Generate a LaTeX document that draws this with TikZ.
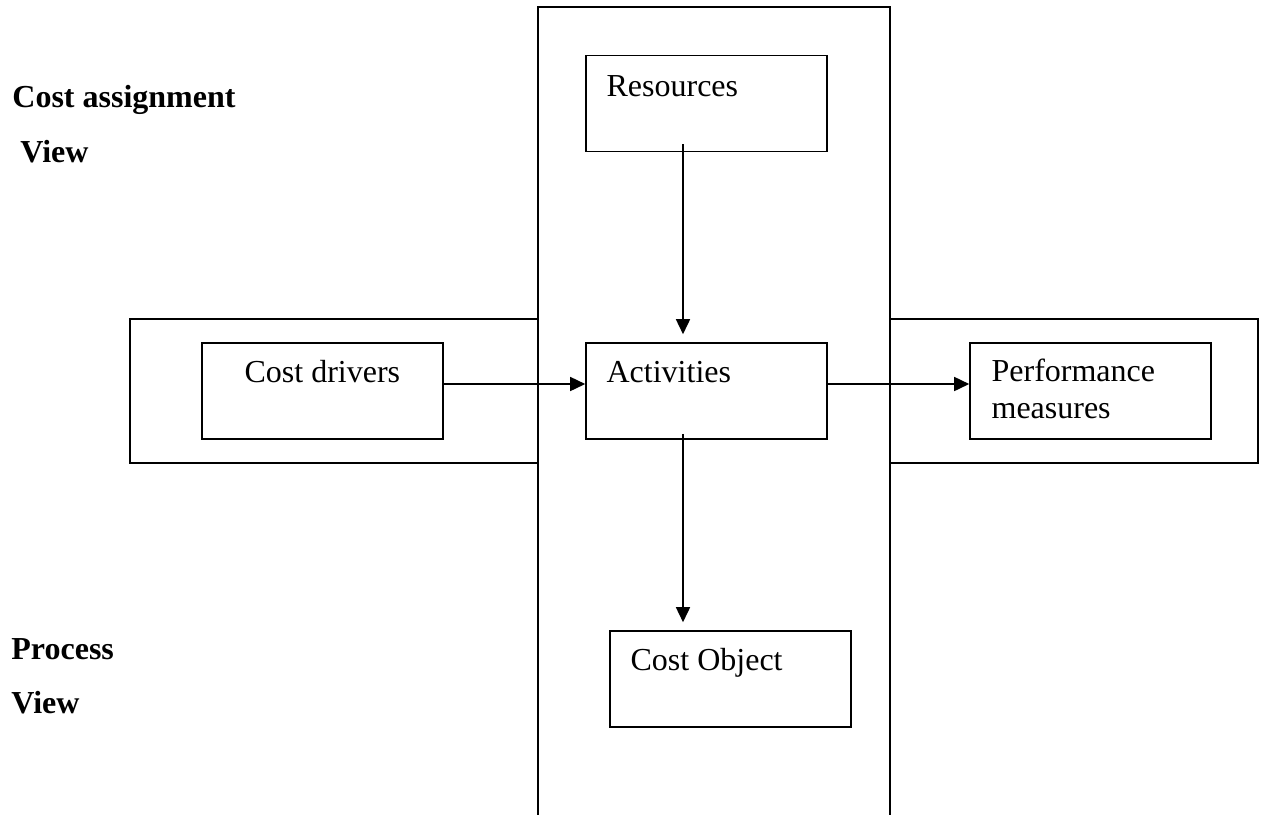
\documentclass[tikz,border=0pt]{standalone}
\usepackage{fontspec}
\setmainfont{Liberation Serif}
\usetikzlibrary{arrows.meta,positioning}
\tikzset{
  box/.style   ={draw,line width=0.8pt,minimum width=120.5pt,minimum height=48pt,inner sep=0pt},
  frame/.style ={line width=0.8pt},
  flow/.style  ={-{Triangle[length=7.5pt,width=7pt]},line width=0.8pt},
  txt/.style   ={font=\fontsize{16}{18.5}\selectfont,inner sep=0pt,anchor=base west,align=left},
  view/.style  ={txt,font=\fontsize{16}{18.5}\selectfont\bfseries},
}

\begin{document}
\begin{tikzpicture}[x=0.5pt,y=-0.5pt]
  \useasboundingbox (0,0) rectangle (1261,814);
  % vertical strip and the two halves of the horizontal band
  \draw[frame] (538,830) -- (538,7) -- (890,7) -- (890,830);
  \draw[frame] (538,319) -- (130,319) -- (130,463) -- (538,463);
  \draw[frame] (890,319) -- (1258,319) -- (1258,463) -- (890,463);

  \node[box,label={[txt,xshift=10.5pt,yshift=-21pt]north west:Resources}] (res) at (706.5,103.5) {};
  \node[box,label={[txt,xshift=10.5pt,yshift=-20pt]north west:Activities}] (act) at (706.5,391) {};
  \node[box,label={[txt,xshift=21.5pt,yshift=-20pt]north west:Cost drivers}] (drv) at (322.5,391) {};
  % base of a two-line label is its last line
  \node[box,label={[txt,xshift=11pt,yshift=-38pt]north west:Performance\\measures}] (perf) at (1090.5,391) {};
  \node[box,label={[txt,xshift=10.5pt,yshift=-20pt]north west:Cost Object}] (obj) at (730.5,679) {};

  \draw[flow] ([xshift=-11.75pt,yshift=4pt]res.south) -- ([xshift=-11.75pt,yshift=4pt]act.north);
  \draw[flow] ([xshift=-11.75pt,yshift=3pt]act.south) -- ([xshift=-23.75pt,yshift=4pt]obj.north);
  \draw[flow] ([yshift=3.5pt]drv.east) -- ([yshift=3.5pt]act.west);
  \draw[flow] ([yshift=3.5pt]act.east) -- ([yshift=3.5pt]perf.west);

  % view captions
  \node[view] (cav)  at (12,107)  {Cost assignment};
  \node[view] (cav2) at (20,162)  {View};
  \node[view] (pv)   at (11,659)  {Process};
  \node[view] (pv2)  at (11,713)  {View};
\end{tikzpicture}
\end{document}
